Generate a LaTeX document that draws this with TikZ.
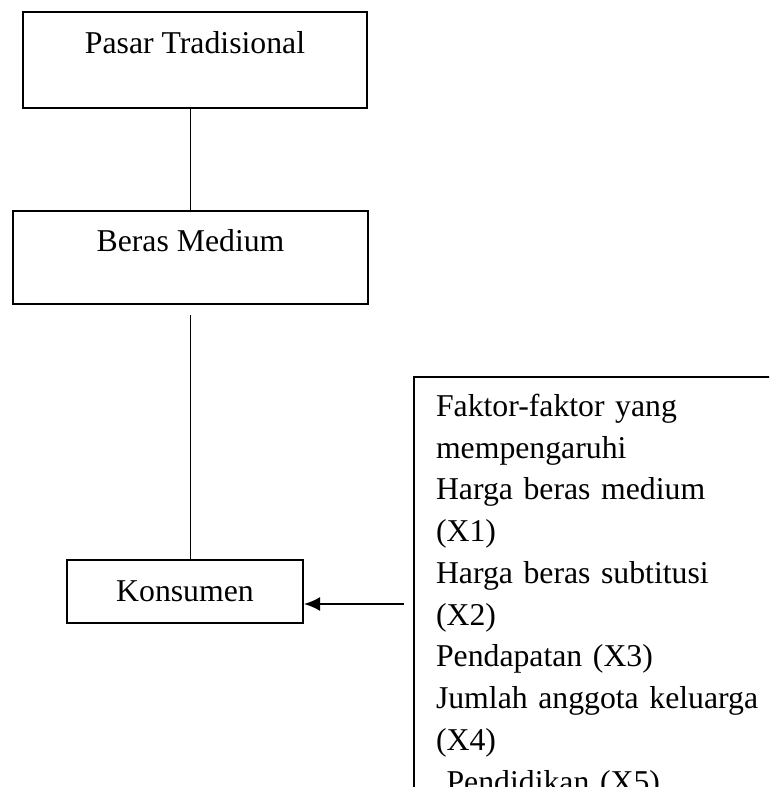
\documentclass[tikz,border=0pt]{standalone}
\usepackage{fontspec}
\setmainfont{Liberation Serif}
\usetikzlibrary{arrows.meta}

\begin{document}
\begin{tikzpicture}[x=0.4pt,y=-0.4pt,
    box/.style={draw,line width=0.8pt,inner sep=0pt,font=\fontsize{12.7pt}{14pt}\selectfont},
    link/.style={line width=0.7pt},
    arrow/.style={line width=0.8pt,-{Latex[length=6.4pt,width=5.6pt]}}]

    \useasboundingbox (0,0) rectangle (769,787);
    \clip (0,0) rectangle (769,787);

    % these are the boxes
    \node[box,anchor=north,minimum width=137.6pt,text height=16.4pt,text depth=22pt] (pasar) at (195,11) {Pasar Tradisional};
    \node[box,anchor=north,minimum width=142pt,text height=16pt,text depth=21.2pt] (beras) at (190.5,210) {Beras Medium};
    \node[box,anchor=north,minimum width=94.4pt,text height=16.4pt,text depth=8.8pt] (konsumen) at (185,559) {Konsumen};
    \node[box,anchor=north west,text width=150pt,align=left,inner xsep=8.8pt,inner ysep=6.8pt,
        font=\fontsize{12.7pt}{16.7pt}\selectfont] (faktor) at (413,376)
        {Faktor-faktor yang\\ mempengaruhi\\ Harga beras medium\\ (X1)\\ Harga beras subtitusi\\ (X2)\\
         Pendapatan (X3)\\ Jumlah anggota keluarga\\ (X4)\\ \ Pendidikan (X5)};

    \coordinate (tail) at (404,604);

    % these are the connectors
    \draw[link] (beras.north) -- (beras.north |- pasar.south);
    \draw[link,shorten <=4pt] (beras.south) -- (beras.south |- konsumen.north);
    \draw[arrow] (tail) -- (tail -| konsumen.east);

\end{tikzpicture}
\end{document}
